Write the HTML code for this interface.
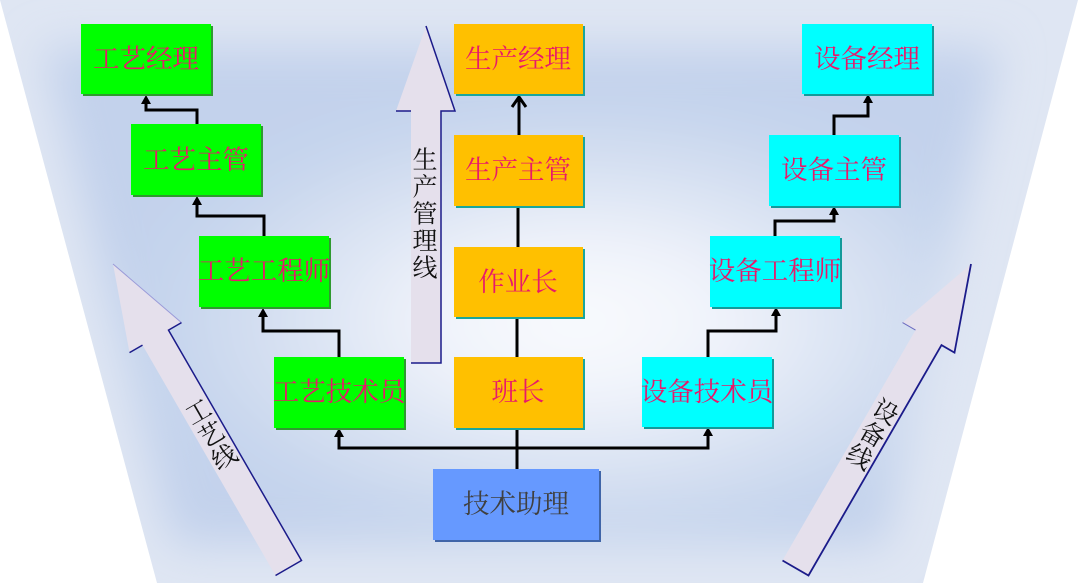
<!DOCTYPE html>
<html><head><meta charset="utf-8"><style>
html,body{margin:0;padding:0;background:#fff;}
body{width:1080px;height:583px;overflow:hidden;}
svg{display:block;}
.bt{font-family:"Liberation Serif","Noto Serif CJK SC",serif;font-size:26.5px;fill:#e8196a;text-anchor:middle;dominant-baseline:central;}
.lt{font-family:"Liberation Serif","Noto Serif CJK SC",serif;font-size:25px;fill:#111;text-anchor:middle;dominant-baseline:central;}
</style></head><body>
<svg width="1080" height="583" viewBox="0 0 1080 583" xmlns="http://www.w3.org/2000/svg">
<defs>
<clipPath id="trap"><polygon points="0,0 1078,0 923,583 157,583"/></clipPath>
<filter id="blur" x="-20%" y="-20%" width="140%" height="140%"><feGaussianBlur stdDeviation="22"/></filter>
<radialGradient id="rg" cx="0.56" cy="0.55" r="0.5">
<stop offset="0" stop-color="#f9fbfe"/>
<stop offset="0.28" stop-color="#f1f4fb"/>
<stop offset="0.58" stop-color="#dae3f3"/>
<stop offset="0.86" stop-color="#c6d5ed"/>
<stop offset="1" stop-color="#c3d2ec"/>
</radialGradient>
</defs>
<rect width="1080" height="583" fill="#fff"/>
<g clip-path="url(#trap)">
<rect width="1080" height="583" fill="#dfe6f3"/>
<polygon points="42,48 1000,48 885,545 172,545" fill="url(#rg)" filter="url(#blur)"/>
</g>

<!-- Production line arrow -->
<polygon points="426,26 455,111 441,111 441,363 411,363 411,111 396,111" fill="#e5e0ec"/>
<polyline points="396,111 411,111" fill="none" stroke="#1b1b8a" stroke-width="1.5"/>
<polyline points="426,26 455,111 441,111 441,363 411,363" fill="none" stroke="#1b1b8a" stroke-width="1.5"/>
<text class="lt" x="425" y="161">生</text>
<text class="lt" x="425" y="188">产</text>
<text class="lt" x="425" y="215">管</text>
<text class="lt" x="425" y="242">理</text>
<text class="lt" x="425" y="269">线</text>

<!-- Process line arrow -->
<g transform="translate(113 264) rotate(-30)">
<polygon points="0,0 30,85 15,85 15,351 -15,351 -15,85 -30,85" fill="#e5e0ec"/>
<polyline points="-30,85 -15,85" fill="none" stroke="#1b1b8a" stroke-width="1.5"/>
<polyline points="0,0 30,85" fill="none" stroke="#9a9ad8" stroke-width="1"/>
<polyline points="30,85 15,85 15,351 -15,351" fill="none" stroke="#1b1b8a" stroke-width="1.5"/>
<text class="lt" x="0" y="172">工</text>
<text class="lt" x="0" y="198">艺</text>
<text class="lt" x="0" y="224">线</text>
</g>

<!-- Equipment line arrow -->
<g transform="translate(971 264) rotate(30)">
<polygon points="0,0 30,85 15,85 15,351 -15,351 -15,85 -30,85" fill="#e5e0ec"/>
<polyline points="-30,85 -15,85" fill="none" stroke="#6a6ac0" stroke-width="1"/>
<polyline points="0,0 30,85 15,85 15,351 -15,351" fill="none" stroke="#1b1b8a" stroke-width="1.8"/>
<text class="lt" x="0" y="172">设</text>
<text class="lt" x="0" y="198">备</text>
<text class="lt" x="0" y="224">线</text>
</g>

<!-- Connectors -->
<g fill="none" stroke="#000" stroke-width="3" stroke-linejoin="miter">
<path d="M197,124 V110 H146 V100"/>
<path d="M264,236 V216 H197 V201"/>
<path d="M339,357 V331 H263 V313"/>
<path d="M517,469 V428"/>
<path d="M339,432 V448 H708 V431"/>
<path d="M517,357 V317"/>
<path d="M518,247 V206"/>
<path d="M519,135 V97"/>
<path d="M512,107 L519,97 L526,107"/>
<path d="M708,357 V331 H776 V312"/>
<path d="M775,236 V221 H834 V211"/>
<path d="M834,135 V116 H868 V99"/>
</g>
<g fill="#000">
<polygon points="146,95 141,104 151,104"/>
<polygon points="197,196 192,205 202,205"/>
<polygon points="263,308 258,317 268,317"/>
<polygon points="339,428 334,437 344,437"/>
<polygon points="708,427 703,436 713,436"/>
<polygon points="776,307 771,316 781,316"/>
<polygon points="834,206 829,215 839,215"/>
<polygon points="868,94 863,103 873,103"/>
</g>

<!-- Green boxes -->
<g>
<rect x="83" y="26" width="130" height="70" fill="#2f9a2f"/><rect x="81" y="24" width="130" height="70" fill="#00ff00"/>
<rect x="133" y="126" width="130" height="71" fill="#2f9a2f"/><rect x="131" y="124" width="130" height="71" fill="#00ff00"/>
<rect x="201" y="238" width="130" height="71" fill="#2f9a2f"/><rect x="199" y="236" width="130" height="71" fill="#00ff00"/>
<rect x="276" y="359" width="130" height="71" fill="#2f9a2f"/><rect x="274" y="357" width="130" height="71" fill="#00ff00"/>
</g>
<!-- Orange boxes -->
<g>
<rect x="456" y="26" width="129" height="70" fill="#1aa69c"/><rect x="454" y="24" width="129" height="70" fill="#ffc000"/>
<rect x="456" y="137" width="129" height="71" fill="#1aa69c"/><rect x="454" y="135" width="129" height="71" fill="#ffc000"/>
<rect x="456" y="249" width="129" height="70" fill="#1aa69c"/><rect x="454" y="247" width="129" height="70" fill="#ffc000"/>
<rect x="456" y="359" width="129" height="71" fill="#1aa69c"/><rect x="454" y="357" width="129" height="71" fill="#ffc000"/>
</g>
<!-- Cyan boxes -->
<g>
<rect x="804" y="26" width="130" height="70" fill="#139a9a"/><rect x="802" y="24" width="130" height="70" fill="#00ffff"/>
<rect x="771" y="137" width="130" height="71" fill="#139a9a"/><rect x="769" y="135" width="130" height="71" fill="#00ffff"/>
<rect x="712" y="238" width="130" height="71" fill="#139a9a"/><rect x="710" y="236" width="130" height="71" fill="#00ffff"/>
<rect x="644" y="359" width="130" height="70" fill="#139a9a"/><rect x="642" y="357" width="130" height="70" fill="#00ffff"/>
</g>
<!-- Blue box -->
<rect x="435" y="471" width="166" height="71" fill="#4065a8"/><rect x="433" y="469" width="166" height="71" fill="#6699ff"/>

<!-- Box labels -->
<text class="bt" x="146" y="59">工艺经理</text>
<text class="bt" x="196" y="160">工艺主管</text>
<text class="bt" x="264" y="271">工艺工程师</text>
<text class="bt" x="339" y="392">工艺技术员</text>
<text class="bt" x="518" y="59">生产经理</text>
<text class="bt" x="518" y="170">生产主管</text>
<text class="bt" x="518" y="282">作业长</text>
<text class="bt" x="518" y="392">班长</text>
<text class="bt" x="516" y="504" style="fill:#404040">技术助理</text>
<text class="bt" x="867" y="59">设备经理</text>
<text class="bt" x="834" y="170">设备主管</text>
<text class="bt" x="775" y="271">设备工程师</text>
<text class="bt" x="707" y="392">设备技术员</text>
</svg>
</body></html>
